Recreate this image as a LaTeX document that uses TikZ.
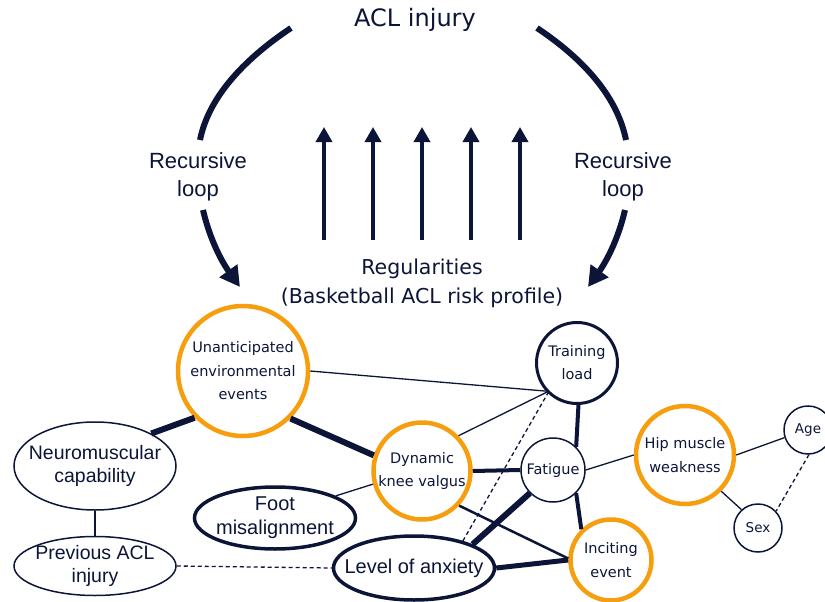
\documentclass[tikz,border=0pt]{standalone}
\usepackage{fontspec}
\setmainfont{DejaVu Sans}
\newfontfamily\arialfont{Liberation Sans}
\usepackage{tikz}
\usetikzlibrary{arrows.meta}
\usetikzlibrary{shapes.geometric}
\definecolor{navy}{RGB}{12,21,56}
\definecolor{amber}{RGB}{246,158,14}
\tikzset{
    tnode/.style = {align=center, inner sep=0pt, text=navy},
    onode/.style = {tnode, circle, draw=amber, line width=4.5pt, font=\fontsize{14.5}{23.5}\selectfont},
    bnode/.style = {tnode, circle, draw=navy, line width=1.5pt, font=\fontsize{14.5}{23}\selectfont},
    enode/.style = {tnode, ellipse, draw=navy, line width=1.5pt},
    etext/.style = {tnode, font=\arialfont\fontsize{19.5}{23.5}\selectfont},
    lbl/.style = {tnode, font=\arialfont\fontsize{22}{28}\selectfont}
}
\tikzset{
    thin_link/.style = {draw=navy, line width=1.3pt},
    mid_link/.style = {draw=navy, line width=2.5pt},
    thick_link/.style = {draw=navy, line width=4pt},
    heavy_link/.style = {draw=navy, line width=6pt},
    dash_link/.style = {draw=navy, line width=1.3pt, dash pattern=on 4pt off 3pt},
    loop_arc/.style = {draw=navy, line width=6pt},
    up_arrow/.style = {draw=navy, line width=3.5pt, -{Triangle[width=16pt,length=15pt]}}
}
\begin{document}
\begin{tikzpicture}[x=1pt, y=-1pt]
    \useasboundingbox (0,0) rectangle (825,602);
    % top part
    \node [tnode, font=\fontsize{24}{28}\selectfont] (acl) at (415,20) {ACL injury};
    \node [lbl] (recl) at (198,177) {Recursive\\loop};
    \node [lbl] (recr) at (623,177) {Recursive\\loop};
    \node [tnode, font=\fontsize{20.5}{29}\selectfont] (reg) at (422,283) {Regularities\\(Basketball ACL risk profile)};
    \coordinate (ltop) at (291,28);
    \coordinate (lbot) at (200,140);
    \coordinate (rtop) at (537,28);
    \coordinate (rbot) at (626,140);
    \coordinate (ltail) at (203,210);
    \coordinate (lhead) at (240,287);
    \coordinate (rtail) at (625,210);
    \coordinate (rhead) at (588,287);
    \draw [loop_arc] (ltop) .. controls (240,62) and (208,100) .. (lbot);
    \draw [loop_arc] (rtop) .. controls (588,62) and (618,100) .. (rbot);
    \draw [loop_arc, -{Triangle[width=21pt,length=20pt]}] (ltail) .. controls (210,240) and (222,262) .. (lhead);
    \draw [loop_arc, -{Triangle[width=21pt,length=20pt]}] (rtail) .. controls (618,240) and (606,262) .. (rhead);
    \foreach \i/\x in {1/324,2/373,3/422,4/471,5/520} {
        \coordinate (b\i) at (\x,240);
        \coordinate (t\i) at (\x,127);
        \draw [up_arrow] (b\i) -- (t\i);
    }
    % network
    \node [onode, minimum size=130pt] (unant) at (243,371) {Unanticipated\\environmental\\events};
    \node [onode, minimum size=97pt] (valgus) at (422,471) {Dynamic\\knee valgus};
    \node [onode, minimum size=98pt] (hip) at (685,455) {Hip muscle\\weakness};
    \node [onode, minimum size=81pt] (incit) at (611,560) {Inciting\\event};
    \node [bnode, line width=3pt, minimum size=81pt] (train) at (577,363) {Training\\load};
    \node [bnode, minimum size=64pt] (fatig) at (553,470) {Fatigue};
    \node [bnode, minimum size=48pt, font=\fontsize{13.5}{16}\selectfont] (age) at (808,430) {Age};
    \node [bnode, minimum size=48pt, font=\fontsize{13.5}{16}\selectfont] (sex) at (758,528) {Sex};
    \node [enode, minimum width=162pt, minimum height=88pt,
        label={[etext]center:Neuromuscular\\capability}] (neuro) at (95,466) {};
    \node [enode, minimum width=162pt, minimum height=59pt,
        label={[etext]center:Previous ACL\\injury}] (prev) at (95,566) {};
    \node [enode, line width=3.5pt, minimum width=161pt, minimum height=62pt,
        label={[etext, font=\arialfont\fontsize{20}{24}\selectfont]center:Foot\\misalignment}] (foot) at (275,518) {};
    \node [enode, line width=3.5pt, minimum width=161pt, minimum height=64pt,
        label={[etext, font=\arialfont\fontsize{20}{24}\selectfont]center:Level of anxiety}] (anx) at (414,568) {};
    % links
    \draw [heavy_link] (unant.224) -- (neuro.30);
    \draw [heavy_link] (unant.-45) -- (valgus.162);
    \draw [thin_link] (unant.0) -- (train.222);
    \draw [thin_link] (valgus.44) -- (train.224);
    \draw [dash_link] (anx.29) -- (train.226);
    \draw [thick_link] (valgus.east) -- (fatig.west);
    \draw [thick_link] (train.-88) -- (fatig.45);
    \draw [heavy_link] (fatig.225) -- (anx.22);
    \draw [thick_link] (fatig.-45) -- (incit.134);
    \draw [mid_link] (valgus.-43) -- (incit.178);
    \draw [line width=5pt, navy] (anx.east) -- (incit.west);
    \draw [thin_link] (fatig.east) -- (hip.west);
    \draw [thin_link] (hip.east) -- (age.198);
    \draw [thin_link] (hip.-45) -- (sex.132);
    \draw [dash_link] (age.-88) -- (sex.43);
    \draw [thin_link] (foot.20) -- (valgus.195);
    \draw [thin_link] (neuro.south) -- (prev.north);
    \draw [dash_link] (prev.east) -- (anx.west);
\end{tikzpicture}
\end{document}
